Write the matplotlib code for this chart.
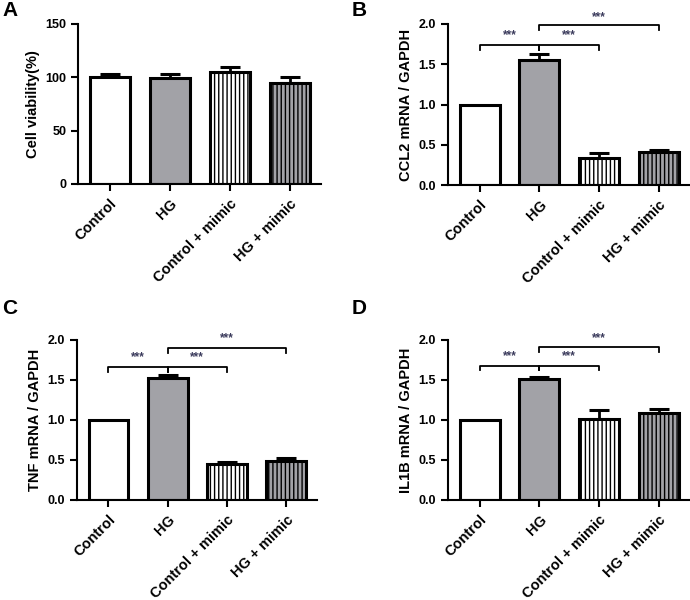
import matplotlib.pyplot as plt
import numpy as np

plt.rcParams['font.family'] = ['Liberation Sans', 'DejaVu Sans']
plt.rcParams['font.weight'] = 'bold'
plt.rcParams['hatch.linewidth'] = 1.0

groups = ['Control', 'HG', 'Control + mimic', 'HG + mimic']

# panel A: cell viability
viab_mean = [100, 99, 105, 95]
viab_err = [3, 4, 5, 5]
# panel B: CCL2
ccl2_mean = [1.0, 1.55, 0.33, 0.41]
ccl2_err = [0.0, 0.08, 0.07, 0.03]
# panel C: TNF
tnf_mean = [1.0, 1.53, 0.45, 0.49]
tnf_err = [0.0, 0.03, 0.03, 0.03]
# panel D: IL1B
il1b_mean = [1.0, 1.51, 1.01, 1.09]
il1b_err = [0.0, 0.03, 0.11, 0.05]

gray = '#a2a2a7'
star_col = '#3b3b5c'
fills = ['white', gray, 'white', gray]
hatches = [None, None, '||||', '||||']


def draw_panel(ax, means, errs, ylabel, ymax, ystep):
    x = np.arange(len(groups))
    for i in range(len(groups)):
        ax.bar(x[i], means[i], width=0.67, color=fills[i], edgecolor='black',
               linewidth=2.2, hatch=hatches[i], zorder=2)
        if errs[i] > 0:
            ax.errorbar(x[i], means[i], yerr=[[0], [errs[i]]], fmt='none',
                        ecolor='black', elinewidth=2, capsize=7.5, capthick=2.2, zorder=1)
    ax.set_xlim(-0.53, 3.52)
    ax.set_ylim(0, ymax)
    ax.set_yticks(np.arange(0, ymax + ystep / 2, ystep))
    if ystep < 1:
        ax.set_yticklabels(['%.1f' % v for v in np.arange(0, ymax + ystep / 2, ystep)])
    ax.set_xticks(x)
    ax.set_xticklabels(groups, rotation=45, ha='right', rotation_mode='anchor',
                       fontsize=10.5, fontweight='bold')
    ax.tick_params(axis='y', labelsize=9, width=1.5, length=5)
    ax.tick_params(axis='x', width=1.5, length=5, pad=4)
    for s in ['top', 'right']:
        ax.spines[s].set_visible(False)
    for s in ['left', 'bottom']:
        ax.spines[s].set_linewidth(1.5)
    ax.set_ylabel(ylabel, fontsize=10.5, fontweight='bold', labelpad=4)


def bracket(ax, x1, x2, y, drop, ytxt):
    ax.plot([x1, x1, x2, x2], [y - drop, y, y, y - drop], color='black',
            lw=1.3, clip_on=False, zorder=3)
    ax.text((x1 + x2) / 2, ytxt, '***', color=star_col, fontsize=8.5,
            ha='center', va='center', clip_on=False)


fig = plt.figure(figsize=(6.9, 6.0), dpi=100)

axA = fig.add_axes([78 / 690, 1 - 184 / 600, 243 / 690, 160 / 600])
axB = fig.add_axes([448 / 690, 1 - 185 / 600, 242 / 690, 161 / 600])
axC = fig.add_axes([77 / 690, 1 - 500 / 600, 240 / 690, 160 / 600])
axD = fig.add_axes([448 / 690, 1 - 500 / 600, 242 / 690, 160 / 600])

draw_panel(axA, viab_mean, viab_err, 'Cell viability(%)', 150, 50)
draw_panel(axB, ccl2_mean, ccl2_err, 'CCL2 mRNA / GAPDH', 2.0, 0.5)
draw_panel(axC, tnf_mean, tnf_err, 'TNF mRNA / GAPDH', 2.0, 0.5)
draw_panel(axD, il1b_mean, il1b_err, 'IL1B mRNA / GAPDH', 2.0, 0.5)

# panel letters
fig.text(2 / 690, 1 - 1 / 600, 'A', fontsize=15, fontweight='bold', va='top', ha='left')
fig.text(352 / 690, 1 - 1 / 600, 'B', fontsize=15, fontweight='bold', va='top', ha='left')
fig.text(2 / 690, 1 - 299 / 600, 'C', fontsize=15, fontweight='bold', va='top', ha='left')
fig.text(352 / 690, 1 - 299 / 600, 'D', fontsize=15, fontweight='bold', va='top', ha='left')

# significance brackets
bracket(axB, 0, 1, 1.74, 0.06, 1.86)
bracket(axB, 1, 2, 1.74, 0.06, 1.86)
bracket(axB, 1, 3, 1.99, 0.06, 2.08)

bracket(axC, 0, 1, 1.66, 0.06, 1.79)
bracket(axC, 1, 2, 1.66, 0.06, 1.79)
bracket(axC, 1, 3, 1.90, 0.06, 2.02)

bracket(axD, 0, 1, 1.68, 0.06, 1.80)
bracket(axD, 1, 2, 1.68, 0.06, 1.80)
bracket(axD, 1, 3, 1.91, 0.06, 2.02)

fig.savefig('out.png', dpi=100)
